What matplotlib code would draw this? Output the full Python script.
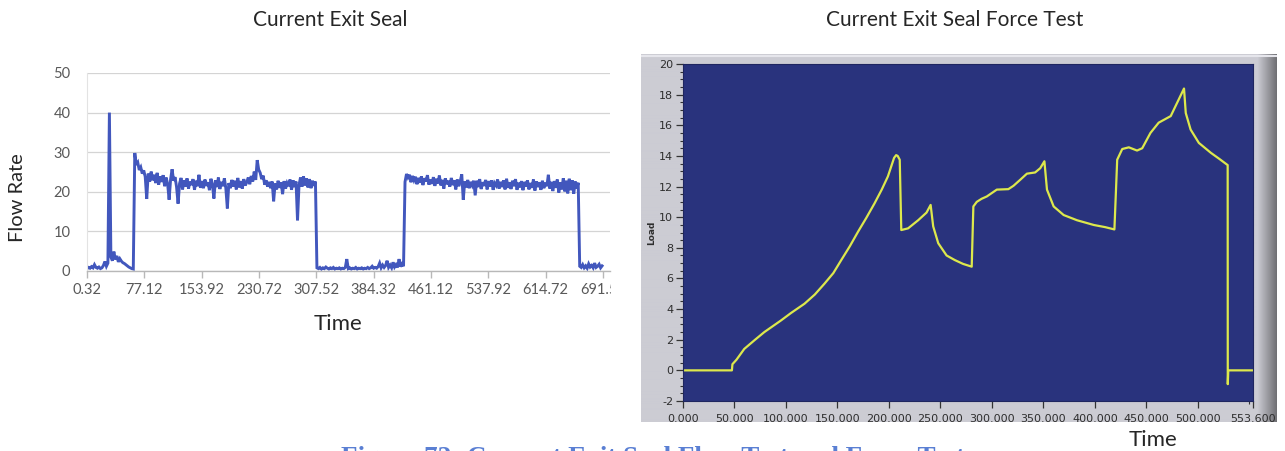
import numpy as np
import matplotlib
matplotlib.use("Agg")
import matplotlib.pyplot as plt
from matplotlib.ticker import FixedLocator, MultipleLocator
from matplotlib.transforms import Bbox

# ---------------------------------------------------------------- data
# Flow test: one reading every 2 s, first reading at 0.32 s
flow_t0 = 0.32
flow_dt = 2.0
flow_rate = [
    # idle, pressure spike, idle
    0.6, 0.9, 0.7, 1.1, 0.8, 1.6, 0.9, 0.7, 1.0, 0.6, 0.8, 1.4, 2.4, 1.2, 2.0,
    40.0,
    3.5, 2.6, 4.9, 2.9, 3.8, 2.3, 3.1, 2.5, 2.1, 1.9, 1.6, 1.3, 1.0, 0.8, 0.6, 0.5,
    # first flow run
    29.8,
    26.8, 27.4, 25.5, 26.2, 24.6, 25.4, 23.8, 18.2, 24.6, 22.6, 25.1, 22.9, 24.3, 22.2,
    24.8, 21.8, 23.9, 22.5, 24.2, 21.4, 23.6, 22.0, 18.0, 23.2, 25.7, 22.8, 23.7, 21.2,
    17.0, 22.1, 23.5, 20.6, 22.9, 21.3, 23.4, 20.8, 22.6, 21.7, 23.2, 20.5, 22.8, 21.4,
    24.3, 21.0, 22.7, 20.9, 23.1, 21.5, 22.4, 20.4, 23.3, 21.8, 18.3, 22.9, 21.2, 23.6,
    20.7, 22.5, 21.4, 23.4, 20.9, 15.8, 22.2, 20.9, 23.0, 21.3, 22.8, 20.6, 23.5, 21.1,
    22.7, 20.8, 23.2, 21.6, 22.4, 23.6, 21.9, 24.0, 22.6, 25.1, 23.0, 28.0, 25.6, 24.8,
    23.2, 24.1, 21.8, 22.9, 21.3, 22.5, 20.9, 22.6, 17.6, 22.1, 20.6, 22.8, 21.0, 22.4,
    19.4, 22.7, 20.8, 22.2, 21.4, 23.1, 20.5, 22.9, 21.2, 22.6, 12.8, 21.7, 23.6, 21.3,
    23.9, 21.6, 23.4, 21.1, 23.2, 20.9, 22.8, 21.5, 22.6,
    # valve closed
    0.8,
    0.6, 0.9, 0.5, 0.8, 0.6, 1.0, 0.7, 0.5, 0.8, 0.6, 0.9, 0.5, 0.7, 0.6, 0.8, 0.5,
    0.7, 0.6, 0.9,
    3.0,
    0.6, 0.8, 0.5, 0.7, 0.6, 0.9, 0.5, 0.7, 0.6, 0.8, 0.5, 0.7, 0.6, 0.9, 0.6, 0.8,
    1.2, 0.7, 0.9, 0.7, 1.1,
    2.0, 0.8, 1.5, 0.9, 1.4, 2.6, 0.9, 1.5, 0.8, 2.2, 1.0, 1.6, 0.9, 3.0, 1.1, 1.8, 1.2,
    # second flow run
    22.5, 24.5, 23.6, 24.3, 22.4, 24.0, 22.9, 23.8, 21.9, 23.5, 22.3, 23.9, 21.7, 23.4,
    22.6, 24.2, 21.8, 23.1, 22.0, 23.7, 21.5, 23.3, 22.1, 24.1, 21.6, 23.0, 20.8, 23.4,
    21.9, 22.8, 21.3, 23.5, 21.7, 22.9, 20.6, 23.1, 21.4, 22.7, 24.4, 18.0, 22.6, 21.1,
    23.0, 20.9, 22.5, 21.6, 22.8, 19.1, 22.8, 21.2, 23.2, 20.7, 22.4, 21.5, 23.0, 20.6,
    22.7, 21.3, 22.9, 20.5, 22.2, 21.6, 23.1, 20.8, 22.5, 21.2, 22.9, 20.6, 23.3, 21.0,
    22.4, 20.7, 22.8, 21.4, 23.2, 20.5, 22.3, 21.1, 22.7, 20.4, 22.5, 21.3, 22.9, 20.6,
    22.2, 21.0, 23.1, 20.3, 22.6, 21.2, 22.4, 20.5, 22.8, 20.9, 22.3, 21.4, 24.3, 20.8,
    22.5, 20.2, 22.7, 21.0, 23.1, 19.8, 22.4, 20.6, 23.4, 20.1, 22.8, 19.6, 23.3, 20.4,
    22.9, 19.5, 22.6, 20.8, 22.3,
    # shut off
    1.2, 0.9, 1.6, 0.8, 1.3, 0.7, 1.8, 1.0, 1.4, 0.8, 2.0, 0.9, 1.2, 1.7, 0.8, 1.3,
]
flow_xticks = [0.32, 77.12, 153.92, 230.72, 307.52, 384.32, 461.12, 537.92,
               614.72, 691.52]
flow_yticks = [0, 10, 20, 30, 40, 50]

# Force test: load against time
load_time = [0, 47.5, 48.0, 52, 59.5, 70, 79, 95, 105, 118,
             128, 137.4, 146, 153.7, 162, 170, 178, 186, 193, 199,
             205, 207, 208.5, 210.5, 212, 218.6, 228.4, 236.5, 240.5, 243,
             247.9, 256, 264, 272, 280.4, 282, 285.3, 290, 295, 304.8,
             316, 321, 327.5, 334, 342, 347, 351, 353.5, 360, 369.7,
             382.7, 399, 410, 419, 421.7, 426.6, 433, 441, 446, 454,
             462, 473.7, 480, 486.6, 488.3, 493, 501, 512.7, 521, 529,
             529.1, 529.6, 553.6]
load_value = [0, 0, 0.4, 0.7, 1.4, 2.0, 2.5, 3.25, 3.75, 4.35,
              4.95, 5.66, 6.35, 7.2, 8.1, 9.05, 9.95, 10.9, 11.8, 12.66,
              13.87, 14.05, 14.0, 13.75, 9.16, 9.27, 9.8, 10.3, 10.8, 9.4,
              8.3, 7.5, 7.2, 6.95, 6.77, 10.7, 11.0, 11.2, 11.35, 11.8,
              11.83, 12.05, 12.44, 12.84, 12.92, 13.2, 13.65, 11.8, 10.7, 10.14,
              9.8, 9.49, 9.35, 9.2, 13.75, 14.45, 14.56, 14.35, 14.5, 15.5,
              16.17, 16.6, 17.48, 18.4, 16.8, 15.72, 14.85, 14.2, 13.8, 13.4,
              -0.9, 0.0, 0.0]
load_xticks = [0, 50, 100, 150, 200, 250, 300, 350, 400, 450, 500, 553.6]
load_yticks = [-2, 0, 2, 4, 6, 8, 10, 12, 14, 16, 18, 20]

# ---------------------------------------------------------------- layout
W, H = 1285, 451
fig = plt.figure(figsize=(W / 100, H / 100), dpi=100)
fig.patch.set_facecolor("white")


def box(left, top, right, bottom):
    return [left / W, 1 - bottom / H, (right - left) / W, (bottom - top) / H]


def fx(x):
    return x / W


def fy(y):
    return 1 - y / H


excel_font = "Lato"
excel_grey = "#595959"
title_color = "#262626"

# ---------------------------------------------------------------- flow chart
ax1 = fig.add_axes(box(87, 73, 610, 271))
flow_t = flow_t0 + flow_dt * np.arange(len(flow_rate))
ax1.plot(flow_t, flow_rate, color="#4257bd", lw=2.1, solid_joinstyle="miter")
ax1.set_xlim(0.32, 700.9)
ax1.set_ylim(0, 50)
ax1.yaxis.set_major_locator(FixedLocator(flow_yticks))
ax1.grid(axis="y", color="#d4d4d4", lw=0.9)
ax1.set_axisbelow(True)
for side in ("top", "right"):
    ax1.spines[side].set_visible(False)
ax1.spines["left"].set_color("#e3e3e3")
ax1.spines["bottom"].set_color("#b8b8b8")
ax1.spines["bottom"].set_linewidth(1.0)
ax1.tick_params(axis="y", length=0, pad=12, labelsize=10.5, labelcolor=excel_grey)
ax1.tick_params(axis="x", length=5, width=1, color="#b8b8b8", pad=4,
                labelsize=10.5, labelcolor=excel_grey)
ax1.set_xticks(flow_xticks)
ax1.set_xticklabels([f"{v:.2f}" for v in flow_xticks])
for lab in ax1.get_xticklabels() + ax1.get_yticklabels():
    lab.set_fontfamily(excel_font)
# the chart frame cuts the last category label
clip = Bbox.from_extents(0, 0, 611, H)
ax1.get_xticklabels()[-1].set_clip_box(clip)
ax1.get_xticklabels()[-1].set_clip_on(True)

fig.text(fx(330), fy(20), "Current Exit Seal", ha="center", va="center",
         fontsize=15, family=excel_font, color=title_color)
fig.text(fx(18), fy(198), "Flow Rate", ha="center", va="center", rotation=90,
         fontsize=14.5, family=excel_font, color=title_color)
fig.text(fx(338), fy(324), "Time", ha="center", va="center",
         fontsize=16, family=excel_font, color=title_color)

# ---------------------------------------------------------------- force chart
# grey instrument panel behind the graph
bg = fig.add_axes(box(641, 54, 1277, 422))
ncol = 636
panel = np.ones((4, ncol, 3)) * np.array([0.80, 0.80, 0.83])
edge = 20
shade = np.linspace(0.0, 1.0, edge)[:, None]
panel[:, -edge:, :] = (panel[:, -edge:, :] * (1 - 0.45 * shade)[None, :, :])
bg.imshow(panel, aspect="auto", extent=(0, 1, 0, 1), interpolation="bilinear")
bg.set_axis_off()
bg.plot([0, 1], [0.995, 0.995], color="#e6e6ec", lw=1.5,
        transform=bg.transAxes)

ax2 = fig.add_axes(box(683, 64, 1253, 401))
ax2.set_facecolor("#29337d")
ax2.plot(load_time, load_value, color="#dde84c", lw=1.6)
ax2.set_xlim(0, 553.6)
ax2.set_ylim(-2, 20)
ax2.xaxis.set_major_locator(FixedLocator(load_xticks))
ax2.xaxis.set_minor_locator(FixedLocator([550]))
ax2.yaxis.set_major_locator(FixedLocator(load_yticks))
ax2.yaxis.set_minor_locator(MultipleLocator(0.5))
ax2.set_xticklabels([f"{v:.3f}" for v in load_xticks])
ax2.set_yticklabels([f"{v:d}" for v in load_yticks])
for s in ax2.spines.values():
    s.set_color("#1f2660")
    s.set_linewidth(0.8)
ax2.tick_params(which="major", direction="out", length=5, width=0.9,
                color="#333333", labelsize=8, labelcolor="#2e2e2e", pad=2)
ax2.tick_params(axis="x", which="major", pad=4)
ax2.tick_params(which="minor", direction="out", length=2.5, width=0.8,
                color="#333333")
ax2.set_ylabel("Load", fontsize=6.5, fontweight="bold", color="#2e2e2e",
               labelpad=2)

fig.text(fx(955), fy(20), "Current Exit Seal Force Test", ha="center",
         va="center", fontsize=15, family=excel_font, color=title_color)
fig.text(fx(1153), fy(440), "Time", ha="center", va="center",
         fontsize=16, family=excel_font, color=title_color)

# figure caption running off the bottom edge
fig.text(fx(653), fy(446), "Figure 72: Current Exit Seal Flow Test and Force Test",
         ha="center", va="top", fontsize=19.5, family="Liberation Serif",
         fontweight="bold", color="#5a7fd3")

fig.savefig("out.png", dpi=100)
